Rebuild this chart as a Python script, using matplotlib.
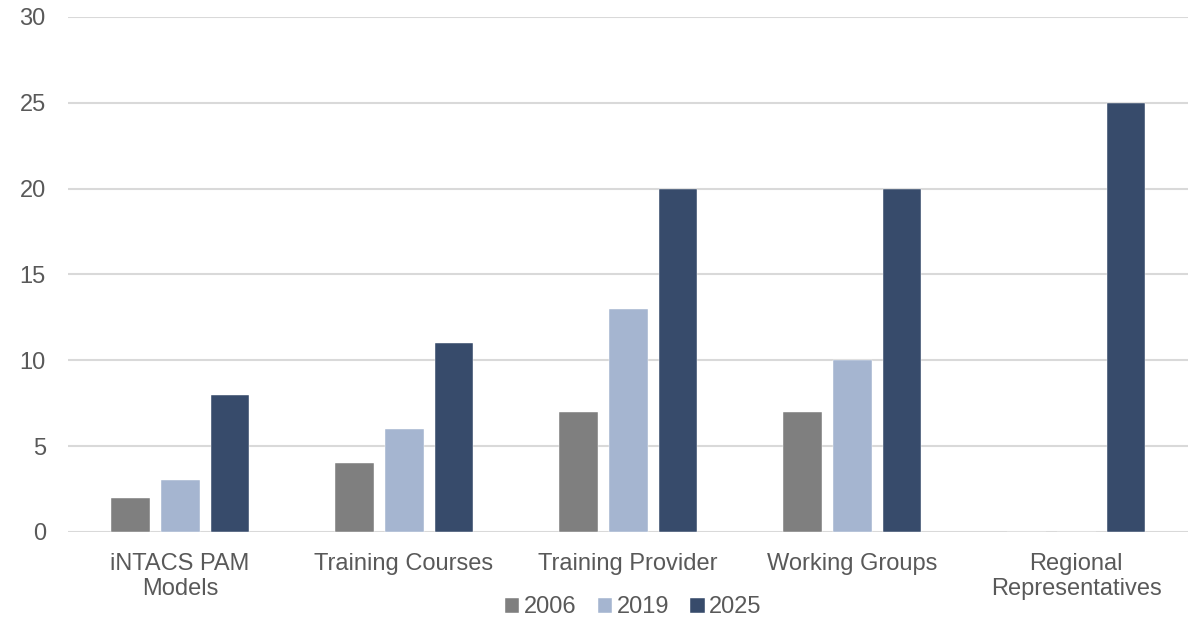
import matplotlib
matplotlib.use("Agg")
import matplotlib.pyplot as plt
import numpy as np

categories = ["iNTACS PAM\nModels", "Training Courses", "Training Provider", "Working Groups", "Regional\nRepresentatives"]
series_names = ["2006", "2019", "2025"]
v2006 = [2, 4, 7, 7, 0]
v2019 = [3, 6, 13, 10, 0]
v2025 = [8, 11, 20, 20, 25]
colors = ["#7F7F7F", "#A5B5D0", "#374B6B"]

plt.rcParams['font.family'] = ['Liberation Sans', 'DejaVu Sans']

fig = plt.figure(figsize=(12.02, 6.18), dpi=100)
ax = fig.add_axes([0.0566, 0.1392, 0.9318, 0.8333])

x = np.arange(len(categories))
w = 0.174
step = 0.223
for i, (vals, name) in enumerate(zip([v2006, v2019, v2025], series_names)):
    ax.bar(x + (i - 1) * step, vals, width=w, color=colors[i], label=name, zorder=3,
           edgecolor="white", linewidth=0.3)

ax.set_xlim(-0.5, len(categories) - 0.5)
ax.set_ylim(0, 30)
ax.set_yticks(range(0, 31, 5))
ax.set_xticks(x)
ax.set_xticklabels(categories, fontsize=17, color="#595959", linespacing=1.2)
ax.tick_params(axis='y', labelsize=17, labelcolor="#595959", length=0, pad=16)
ax.tick_params(axis='x', length=0, pad=15)
ax.yaxis.grid(True, color="#D9D9D9", linewidth=1.5, zorder=0)
ax.set_axisbelow(True)
for s in ax.spines.values():
    s.set_visible(False)

fig.legend(loc='lower center', bbox_to_anchor=(0.527, -0.035), ncol=3, frameon=False,
           fontsize=17, labelcolor="#595959", handlelength=0.6, handleheight=0.6,
           handletextpad=0.2, columnspacing=0.9)

fig.savefig("out.png", dpi=100)
